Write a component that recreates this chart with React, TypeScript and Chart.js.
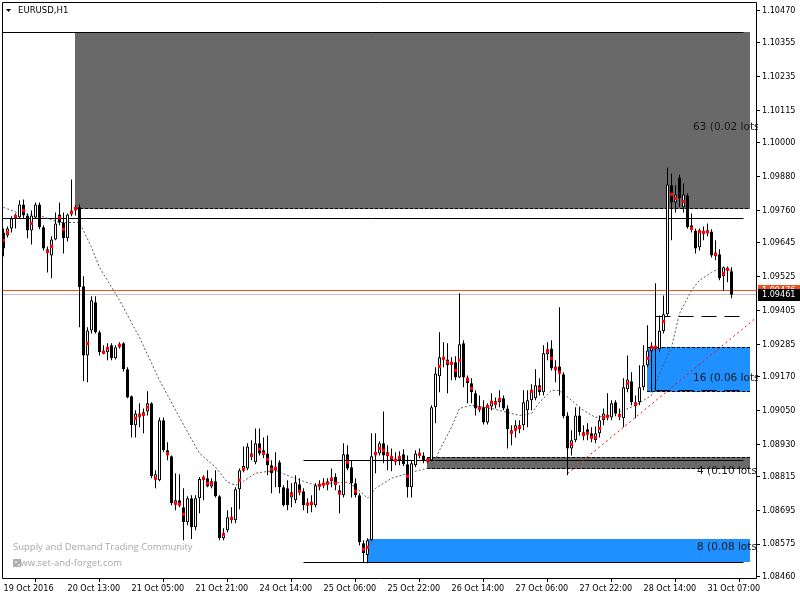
import React, { useEffect, useRef } from "react";
import { Chart, registerables } from "chart.js";

Chart.register(...registerables);

const timeLabels = ["19 Oct 2016", "20 Oct 13:00", "21 Oct 05:00", "21 Oct 21:00", "24 Oct 14:00", "25 Oct 06:00", "25 Oct 22:00", "26 Oct 14:00", "27 Oct 06:00", "27 Oct 22:00", "28 Oct 14:00", "31 Oct 07:00"];
const timeLabelBars = [0, 16, 32, 48, 64, 80, 96, 112, 128, 144, 160, 176];
const priceTicks = [1.1047, 1.10355, 1.10235, 1.10115, 1.1, 1.0988, 1.0976, 1.09645, 1.09525, 1.09405, 1.09285, 1.0917, 1.0905, 1.0893, 1.08815, 1.08695, 1.08575, 1.0846];

const opens = [
  1.09682, 1.09671, 1.09696, 1.09732, 1.09735, 1.09781, 1.09742, 1.09689, 1.09735, 1.09781,
  1.09700, 1.09622, 1.09600, 1.09657, 1.09746, 1.09717, 1.09661, 1.09746, 1.09760, 1.09771,
  1.09491, 1.09245, 1.09334, 1.09434, 1.09327, 1.09256, 1.09256, 1.09281, 1.09235, 1.09274,
  1.09288, 1.09196, 1.09100, 1.08997, 1.09025, 1.09032, 1.09046, 1.09075, 1.08809, 1.08802,
  1.09015, 1.08908, 1.08887, 1.08720, 1.08731, 1.08706, 1.08653, 1.08738, 1.08635, 1.08738,
  1.08802, 1.08809, 1.08780, 1.08798, 1.08745, 1.08596, 1.08624, 1.08660, 1.08660, 1.08770,
  1.08837, 1.08844, 1.08890, 1.08866, 1.08933, 1.08908, 1.08897, 1.08855, 1.08837, 1.08866,
  1.08777, 1.08773, 1.08741, 1.08731, 1.08788, 1.08763, 1.08720, 1.08713, 1.08713, 1.08780,
  1.08788, 1.08788, 1.08798, 1.08813, 1.08766, 1.08749, 1.08894, 1.08848, 1.08791, 1.08749,
  1.08578, 1.08536, 1.08589, 1.08890, 1.08897, 1.08933, 1.08901, 1.08887, 1.08876, 1.08873,
  1.08894, 1.08859, 1.08777, 1.08855, 1.08890, 1.08890, 1.08873, 1.08873, 1.09061, 1.09171,
  1.09235, 1.09231, 1.09213, 1.09221, 1.09167, 1.09288, 1.09167, 1.09146, 1.09111, 1.09057,
  1.09061, 1.09007, 1.09064, 1.09075, 1.09079, 1.09093, 1.09057, 1.08976, 1.08979, 1.08997,
  1.08997, 1.09050, 1.09086, 1.09093, 1.09139, 1.09114, 1.09249, 1.09270, 1.09206, 1.09206,
  1.09178, 1.09032, 1.08915, 1.08944, 1.09032, 1.08958, 1.08983, 1.08969, 1.08944, 1.08969,
  1.09015, 1.09025, 1.09025, 1.09079, 1.09029, 1.09022, 1.09125, 1.09153, 1.09068, 1.09079,
  1.09132, 1.09210, 1.09260, 1.09274, 1.09267, 1.09331, 1.09391, 1.09849, 1.09788, 1.09877,
  1.09771, 1.09813, 1.09707, 1.09689, 1.09629, 1.09675, 1.09678, 1.09685, 1.09611, 1.09604,
  1.09526, 1.09547, 1.09544
];
const highs = [
  1.09696, 1.09703, 1.09739, 1.09749, 1.09796, 1.09799, 1.09749, 1.09760, 1.09788, 1.09788,
  1.09707, 1.09632, 1.09668, 1.09753, 1.09788, 1.09753, 1.09749, 1.09870, 1.09778, 1.09781,
  1.09526, 1.09345, 1.09455, 1.09455, 1.09334, 1.09281, 1.09288, 1.09288, 1.09281, 1.09292,
  1.09292, 1.09203, 1.09103, 1.09050, 1.09075, 1.09057, 1.09118, 1.09079, 1.08837, 1.09025,
  1.09025, 1.08937, 1.08890, 1.08827, 1.08823, 1.08773, 1.08745, 1.08749, 1.08749, 1.08813,
  1.08820, 1.08837, 1.08809, 1.08837, 1.08749, 1.08631, 1.08695, 1.08706, 1.08777, 1.08844,
  1.08922, 1.08933, 1.08944, 1.08986, 1.08986, 1.08954, 1.08961, 1.08873, 1.08901, 1.08873,
  1.08784, 1.08802, 1.08791, 1.08820, 1.08809, 1.08773, 1.08738, 1.08749, 1.08791, 1.08802,
  1.08809, 1.08809, 1.08844, 1.08827, 1.08784, 1.08933, 1.08926, 1.08873, 1.08809, 1.08756,
  1.08589, 1.08596, 1.08969, 1.08969, 1.08940, 1.09046, 1.08926, 1.08915, 1.08901, 1.08905,
  1.08912, 1.08890, 1.08873, 1.08908, 1.08915, 1.08901, 1.08883, 1.09068, 1.09203, 1.09327,
  1.09292, 1.09288, 1.09239, 1.09242, 1.09466, 1.09299, 1.09174, 1.09164, 1.09121, 1.09103,
  1.09086, 1.09075, 1.09111, 1.09096, 1.09121, 1.09103, 1.09068, 1.08997, 1.09015, 1.09015,
  1.09121, 1.09121, 1.09143, 1.09196, 1.09164, 1.09281, 1.09292, 1.09299, 1.09228, 1.09416,
  1.09185, 1.09043, 1.08979, 1.09061, 1.09061, 1.08997, 1.09004, 1.08990, 1.08993, 1.09032,
  1.09057, 1.09111, 1.09086, 1.09086, 1.09057, 1.09164, 1.09245, 1.09185, 1.09103, 1.09210,
  1.09281, 1.09352, 1.09292, 1.09501, 1.09387, 1.09458, 1.09912, 1.09891, 1.09849, 1.09888,
  1.09856, 1.09820, 1.09749, 1.09696, 1.09696, 1.09703, 1.09714, 1.09693, 1.09654, 1.09622,
  1.09561, 1.09561, 1.09558
];
const lows = [
  1.09597, 1.09664, 1.09682, 1.09696, 1.09732, 1.09732, 1.09661, 1.09639, 1.09732, 1.09693,
  1.09618, 1.09540, 1.09519, 1.09654, 1.09707, 1.09607, 1.09650, 1.09739, 1.09742, 1.09345,
  1.09153, 1.09150, 1.09323, 1.09323, 1.09245, 1.09249, 1.09228, 1.09228, 1.09231, 1.09270,
  1.09188, 1.09093, 1.08954, 1.08954, 1.08990, 1.08969, 1.09032, 1.08809, 1.08773, 1.08798,
  1.08901, 1.08873, 1.08713, 1.08695, 1.08706, 1.08589, 1.08642, 1.08593, 1.08624, 1.08685,
  1.08731, 1.08777, 1.08773, 1.08741, 1.08589, 1.08589, 1.08617, 1.08649, 1.08649, 1.08699,
  1.08830, 1.08837, 1.08873, 1.08859, 1.08890, 1.08880, 1.08820, 1.08756, 1.08777, 1.08756,
  1.08709, 1.08695, 1.08706, 1.08720, 1.08749, 1.08695, 1.08685, 1.08688, 1.08706, 1.08766,
  1.08773, 1.08766, 1.08777, 1.08766, 1.08685, 1.08741, 1.08837, 1.08741, 1.08741, 1.08571,
  1.08511, 1.08507, 1.08585, 1.08827, 1.08890, 1.08862, 1.08837, 1.08834, 1.08855, 1.08855,
  1.08852, 1.08741, 1.08741, 1.08848, 1.08880, 1.08862, 1.08862, 1.08869, 1.09004, 1.09114,
  1.09203, 1.09111, 1.09157, 1.09157, 1.09164, 1.09132, 1.09075, 1.09075, 1.09032, 1.09043,
  1.09000, 1.09000, 1.09050, 1.09057, 1.09061, 1.09050, 1.08915, 1.08926, 1.08954, 1.08969,
  1.08979, 1.08990, 1.09050, 1.09086, 1.09103, 1.09103, 1.09228, 1.09192, 1.09150, 1.09103,
  1.09022, 1.08820, 1.08890, 1.08937, 1.08961, 1.08944, 1.08944, 1.08937, 1.08933, 1.08954,
  1.08997, 1.09015, 1.09015, 1.09029, 1.09015, 1.08990, 1.09114, 1.09068, 1.09022, 1.09068,
  1.09121, 1.09203, 1.09114, 1.09121, 1.09256, 1.09323, 1.09384, 1.09654, 1.09753, 1.09771,
  1.09753, 1.09696, 1.09682, 1.09607, 1.09618, 1.09654, 1.09668, 1.09593, 1.09583, 1.09512,
  1.09476, 1.09505, 1.09448
];
const closes = [
  1.09625, 1.09696, 1.09732, 1.09742, 1.09781, 1.09742, 1.09689, 1.09742, 1.09781, 1.09700,
  1.09625, 1.09611, 1.09657, 1.09714, 1.09717, 1.09661, 1.09746, 1.09760, 1.09771, 1.09487,
  1.09245, 1.09334, 1.09441, 1.09327, 1.09256, 1.09263, 1.09274, 1.09235, 1.09274, 1.09285,
  1.09196, 1.09096, 1.08997, 1.09039, 1.09039, 1.09043, 1.09075, 1.08816, 1.08823, 1.09015,
  1.08908, 1.08890, 1.08720, 1.08731, 1.08713, 1.08653, 1.08738, 1.08635, 1.08738, 1.08806,
  1.08813, 1.08780, 1.08798, 1.08745, 1.08596, 1.08614, 1.08670, 1.08670, 1.08770, 1.08837,
  1.08852, 1.08922, 1.08897, 1.08933, 1.08897, 1.08894, 1.08855, 1.08827, 1.08848, 1.08777,
  1.08713, 1.08713, 1.08759, 1.08795, 1.08763, 1.08713, 1.08713, 1.08724, 1.08784, 1.08788,
  1.08791, 1.08798, 1.08806, 1.08784, 1.08756, 1.08894, 1.08844, 1.08791, 1.08749, 1.08582,
  1.08543, 1.08589, 1.08887, 1.08901, 1.08933, 1.08890, 1.08887, 1.08873, 1.08869, 1.08883,
  1.08859, 1.08777, 1.08862, 1.08897, 1.08897, 1.08869, 1.08869, 1.09061, 1.09181, 1.09239,
  1.09239, 1.09210, 1.09217, 1.09167, 1.09285, 1.09167, 1.09146, 1.09114, 1.09057, 1.09064,
  1.09007, 1.09064, 1.09079, 1.09082, 1.09093, 1.09057, 1.08983, 1.08979, 1.08997, 1.08983,
  1.09079, 1.09086, 1.09118, 1.09139, 1.09114, 1.09253, 1.09267, 1.09199, 1.09192, 1.09185,
  1.09029, 1.08915, 1.08944, 1.09032, 1.08972, 1.08972, 1.08965, 1.08951, 1.08969, 1.09015,
  1.09039, 1.09032, 1.09075, 1.09039, 1.09036, 1.09132, 1.09160, 1.09079, 1.09079, 1.09132,
  1.09210, 1.09263, 1.09274, 1.09267, 1.09334, 1.09391, 1.09852, 1.09788, 1.09817, 1.09803,
  1.09817, 1.09700, 1.09693, 1.09625, 1.09685, 1.09682, 1.09685, 1.09600, 1.09597, 1.09519,
  1.09558, 1.09554, 1.09461
];

const markerBars = [0, 1, 3, 5, 7, 11, 12, 14, 15, 17, 18, 21, 25, 26, 29, 33, 34, 35, 36, 38, 41, 43, 44, 45, 50, 51, 52, 55, 57, 59, 60, 62, 64, 65, 66, 67, 68, 72, 74, 76, 77, 79, 80, 81, 82, 83, 84, 86, 88, 90, 91, 93, 94, 95, 96, 97, 98, 99, 101, 104, 106, 109, 110, 111, 112, 113, 114, 116, 117, 119, 121, 122, 123, 124, 127, 128, 129, 132, 134, 136, 137, 138, 139, 142, 145, 146, 147, 148, 149, 150, 151, 154, 156, 158, 161, 162, 163, 165, 167, 168, 170, 172, 174, 175, 176, 178, 180, 181];
const markerPrices = [1.09654, 1.09682, 1.09739, 1.09760, 1.09714, 1.09614, 1.09632, 1.09735, 1.09693, 1.09753, 1.09767, 1.09288, 1.09256, 1.09270, 1.09281, 1.09022, 1.09032, 1.09036, 1.09061, 1.08809, 1.08897, 1.08720, 1.08717, 1.08681, 1.08809, 1.08791, 1.08791, 1.08610, 1.08667, 1.08802, 1.08841, 1.08890, 1.08912, 1.08897, 1.08876, 1.08841, 1.08844, 1.08752, 1.08763, 1.08717, 1.08720, 1.08784, 1.08788, 1.08791, 1.08806, 1.08791, 1.08756, 1.08866, 1.08763, 1.08557, 1.08564, 1.08897, 1.08915, 1.08908, 1.08894, 1.08883, 1.08873, 1.08883, 1.08816, 1.08894, 1.08873, 1.09206, 1.09235, 1.09221, 1.09217, 1.09192, 1.09228, 1.09160, 1.09128, 1.09057, 1.09064, 1.09079, 1.09075, 1.09089, 1.08972, 1.08983, 1.08990, 1.09118, 1.09128, 1.09260, 1.09235, 1.09199, 1.09185, 1.08929, 1.08965, 1.08969, 1.08954, 1.08954, 1.08986, 1.09025, 1.09029, 1.09032, 1.09146, 1.09071, 1.09235, 1.09274, 1.09274, 1.09366, 1.09817, 1.09803, 1.09792, 1.09696, 1.09685, 1.09682, 1.09685, 1.09604, 1.09537, 1.09551];

const maBars = [0, 4, 9, 14, 19, 22, 24, 29, 34, 39, 44, 49, 53, 56, 58, 60, 63, 68, 72, 75, 78, 81, 86, 88, 91, 93, 97, 102, 107, 109, 112, 114, 117, 122, 127, 129, 132, 134, 137, 139, 142, 145, 148, 152, 155, 158, 162, 164, 167, 169, 172, 174, 177, 179, 182];
const maPrices = [1.09771, 1.09749, 1.09742, 1.09717, 1.09717, 1.09629, 1.09558, 1.09441, 1.09309, 1.09157, 1.09025, 1.08897, 1.08848, 1.08795, 1.08784, 1.08798, 1.08827, 1.08837, 1.08813, 1.08798, 1.08784, 1.08791, 1.08795, 1.08777, 1.08738, 1.08773, 1.08809, 1.08830, 1.08848, 1.08908, 1.08990, 1.09057, 1.09068, 1.09057, 1.09039, 1.09032, 1.09039, 1.09079, 1.09121, 1.09121, 1.09086, 1.09050, 1.09025, 1.09032, 1.09050, 1.09068, 1.09103, 1.09181, 1.09274, 1.09394, 1.09476, 1.09512, 1.09540, 1.09554, 1.09547];

const trendBars = [141, 188];
const trendPrices = [1.08826, 1.09377];

const zoneFromBars = [18, 161, 106, 91];
const zoneToBars = [186.6, 186.6, 186.6, 186.6];
const zoneHighs = [1.10392, 1.09274, 1.08883, 1.08592];
const zoneLows = [1.09767, 1.09118, 1.08844, 1.08514];
const zoneTexts = ["63 (0.02 lots)", "16 (0.06 lots)", "4 (0.10 lots)", "8 (0.08 lots)"];
const zoneTextBars = [172.4, 172.4, 173.4, 173.4];
const zoneTextPrices = [1.10055, 1.09164, 1.08834, 1.08564];

const solidLevels = [1.10392, 1.09732, 1.08873, 1.08510];
const solidFromBars = [-0.375, -0.375, 75, 75];
const solidToBars = [185, 185, 185, 185];
const longDashLevels = [1.09384, 1.09121];
const longDashFromBars = [163, 163];
const longDashToBars = [185, 185];

const askPrice = 1.09476;
const bidPrice = 1.09461;

const symbolTitle = "EURUSD,H1";
const watermark1 = "Supply and Demand Trading Community";
const watermark2 = "www.set-and-forget.com";

// styles
const zoneColors = ["#696969", "#1E90FF", "#696969", "#1E90FF"];
const zoneDashTop = [false, true, true, false];
const zoneDashBottom = [true, true, true, false];
const AXIS_FONT = '"DejaVu Sans Condensed", "DejaVu Sans", sans-serif';
const AREA = { left: 2, top: 2, right: 756, bottom: 578 };

function hLine(ctx: CanvasRenderingContext2D, x0: number, x1: number, yPx: number, color: string, dash: number[]) {
  const yy = Math.floor(yPx) + 0.5;
  ctx.save();
  ctx.beginPath();
  ctx.setLineDash(dash);
  ctx.strokeStyle = color;
  ctx.lineWidth = 1;
  ctx.moveTo(x0, yy);
  ctx.lineTo(x1, yy);
  ctx.stroke();
  ctx.restore();
}

const overlayPlugin = {
  id: "mtOverlay",
  beforeDatasetsDraw(chart: any) {
    const { ctx, chartArea: a } = chart;
    const xs = chart.scales.x;
    const ys = chart.scales.y;
    ctx.save();
    ctx.beginPath();
    ctx.rect(a.left, a.top, a.right - a.left, a.bottom - a.top);
    ctx.clip();
    for (let k = 0; k < zoneHighs.length; k++) {
      const xl = Math.floor(xs.getPixelForValue(zoneFromBars[k]));
      const xr = Math.ceil(xs.getPixelForValue(zoneToBars[k]));
      const yt = Math.floor(ys.getPixelForValue(zoneHighs[k]));
      const yb = Math.ceil(ys.getPixelForValue(zoneLows[k]));
      ctx.fillStyle = zoneColors[k];
      ctx.fillRect(xl, yt, xr - xl, yb - yt);
      if (zoneDashTop[k]) hLine(ctx, xl, xr, yt, "#000", [3, 2]);
      if (zoneDashBottom[k]) hLine(ctx, xl, xr, yb - 1, "#000", [3, 2]);
    }
    for (let k = 0; k < solidLevels.length; k++) {
      hLine(ctx, Math.max(a.left, xs.getPixelForValue(solidFromBars[k])), xs.getPixelForValue(solidToBars[k]), ys.getPixelForValue(solidLevels[k]), "#000", []);
    }
    for (let k = 0; k < longDashLevels.length; k++) {
      hLine(ctx, xs.getPixelForValue(longDashFromBars[k]), xs.getPixelForValue(longDashToBars[k]), ys.getPixelForValue(longDashLevels[k]), "#000", [15, 8]);
    }
    hLine(ctx, a.left, a.right, ys.getPixelForValue(askPrice), "#F0501E", []);
    hLine(ctx, a.left, a.right, ys.getPixelForValue(bidPrice), "#C0C0C0", []);
    ctx.restore();
  },
  afterDatasetsDraw(chart: any) {
    const { ctx, chartArea: a } = chart;
    const xs = chart.scales.x;
    const ys = chart.scales.y;
    ctx.save();
    ctx.beginPath();
    ctx.rect(a.left, a.top, a.right - a.left + 2, a.bottom - a.top);
    ctx.clip();
    ctx.font = '10.5px "DejaVu Sans", sans-serif';
    ctx.fillStyle = "#1a1a1a";
    ctx.textAlign = "left";
    ctx.textBaseline = "middle";
    for (let k = 0; k < zoneTexts.length; k++) {
      ctx.fillText(zoneTexts[k], xs.getPixelForValue(zoneTextBars[k]), ys.getPixelForValue(zoneTextPrices[k]));
    }
    ctx.restore();
  },
  afterDraw(chart: any) {
    const { ctx, chartArea: a } = chart;
    const ys = chart.scales.y;
    ctx.save();
    // frame
    ctx.strokeStyle = "#000";
    ctx.lineWidth = 1;
    ctx.setLineDash([]);
    ctx.beginPath();
    ctx.moveTo(a.left + 0.5, a.top + 0.5);
    ctx.lineTo(a.right + 0.5, a.top + 0.5);
    ctx.lineTo(a.right + 0.5, a.bottom + 0.5);
    ctx.lineTo(a.left + 0.5, a.bottom + 0.5);
    ctx.closePath();
    ctx.stroke();
    // title
    ctx.fillStyle = "#000";
    ctx.beginPath();
    ctx.moveTo(6, 9);
    ctx.lineTo(11, 9);
    ctx.lineTo(8.5, 12);
    ctx.closePath();
    ctx.fill();
    ctx.font = "9.5px " + AXIS_FONT;
    ctx.textBaseline = "middle";
    ctx.textAlign = "left";
    ctx.fillText(symbolTitle, 18, 11);
    // watermark
    ctx.fillStyle = "#a8a8a8";
    ctx.font = '9.5px "Open Sans", sans-serif';
    ctx.fillText(watermark1, 13, 547);
    ctx.fillText(watermark2, 13, 563);
    ctx.fillStyle = "#b0b0b0";
    ctx.fillRect(13, 559, 8, 8);
    ctx.fillStyle = "#e0e0e0";
    ctx.fillRect(15, 561, 2, 2);
    ctx.fillRect(18, 564, 2, 2);
    // price labels
    const ay = Math.floor(ys.getPixelForValue(askPrice));
    const by = Math.floor(ys.getPixelForValue(bidPrice));
    ctx.font = "9px " + AXIS_FONT;
    ctx.fillStyle = "#F0501E";
    ctx.fillRect(a.right + 2, ay - 5, 44, 12);
    ctx.fillStyle = "#fff";
    ctx.fillText(askPrice.toFixed(5), a.right + 6, ay + 1);
    ctx.fillStyle = "#000";
    ctx.fillRect(a.right + 2, by - 5, 44, 12);
    ctx.fillStyle = "#fff";
    ctx.fillText(bidPrice.toFixed(5), a.right + 6, by + 1);
    ctx.restore();
  },
};

export default function App() {
  const ref = useRef<HTMLCanvasElement | null>(null);
  useEffect(() => {
    document.body.style.margin = "0";
    const canvas = ref.current;
    if (!canvas) return;
    const n = opens.length;
    const idx = Array.from({ length: n }, (_, i) => i);
    const bodies = idx.map((i) => ({ x: i, y: [opens[i], closes[i]] }));
    const wicks = idx.map((i) => ({ x: i, y: [lows[i], highs[i]] }));
    const bodyFill = idx.map((i) => (closes[i] >= opens[i] ? "#ffffff" : "#000000"));
    const chart = new Chart(canvas, {
      type: "bar",
      data: {
        datasets: [
          {
            type: "scatter",
            data: markerBars.map((b, k) => ({ x: b, y: markerPrices[k] })),
            backgroundColor: "#FF0000",
            borderWidth: 0,
            pointStyle: "rect",
            pointRadius: 2.2,
            order: 0,
          } as any,
          {
            type: "bar",
            data: bodies,
            backgroundColor: bodyFill,
            borderColor: "#000",
            borderWidth: 1,
            borderSkipped: false,
            barThickness: 3,
            grouped: false,
            inflateAmount: 0,
            minBarLength: 1,
            order: 1,
          } as any,
          {
            type: "bar",
            data: wicks,
            backgroundColor: "#000",
            borderWidth: 0,
            borderSkipped: false,
            barThickness: 1,
            grouped: false,
            inflateAmount: 0,
            minBarLength: 1,
            order: 2,
          } as any,
          {
            type: "line",
            data: maBars.map((b, k) => ({ x: b, y: maPrices[k] })),
            borderColor: "#5a5a5a",
            borderWidth: 1,
            borderDash: [2, 2],
            pointRadius: 0,
            tension: 0,
            order: 3,
          } as any,
          {
            type: "line",
            data: trendBars.map((b, k) => ({ x: b, y: trendPrices[k] })),
            borderColor: "#FF0000",
            borderWidth: 1,
            borderDash: [2, 3],
            pointRadius: 0,
            tension: 0,
            order: 3,
          } as any,
        ],
      },
      options: {
        responsive: false,
        animation: false,
        events: [],
        layout: { padding: 0 },
        plugins: { legend: { display: false }, tooltip: { enabled: false } },
        scales: {
          x: {
            type: "linear",
            min: -0.375,
            max: 188.125,
            offset: false,
            border: { display: false },
            grid: { drawOnChartArea: false, drawTicks: true, tickLength: 4, color: "#000" },
            afterBuildTicks: (scale: any) => {
              scale.ticks = timeLabelBars.map((v) => ({ value: v }));
            },
            afterFit: (scale: any) => {
              scale.height = 600 - AREA.bottom;
              scale.paddingLeft = 0;
              scale.paddingRight = 0;
              scale.paddingTop = 0;
              scale.paddingBottom = 0;
            },
            ticks: {
              autoSkip: false,
              maxRotation: 0,
              minRotation: 0,
              align: "start",
              padding: 1,
              color: "#000",
              font: { family: AXIS_FONT, size: 9 },
              callback: (v: any) => {
                const k = timeLabelBars.indexOf(Number(v));
                return k >= 0 ? timeLabels[k] : "";
              },
            },
          },
          y: {
            type: "linear",
            position: "right",
            min: 1.084547,
            max: 1.105002,
            border: { display: false },
            grid: { drawOnChartArea: false, drawTicks: true, tickLength: 4, color: "#000" },
            afterBuildTicks: (scale: any) => {
              scale.ticks = priceTicks.map((v) => ({ value: v }));
            },
            afterFit: (scale: any) => {
              scale.width = 800 - AREA.right;
              scale.paddingLeft = 0;
              scale.paddingRight = 0;
              scale.paddingTop = 0;
              scale.paddingBottom = 0;
            },
            ticks: {
              autoSkip: false,
              padding: 2,
              color: "#000",
              font: { family: AXIS_FONT, size: 9 },
              callback: (v: any) => Number(v).toFixed(5),
            },
          },
        },
      } as any,
      plugins: [
        {
          id: "fixArea",
          afterLayout(c: any) {
            const ca = c.chartArea;
            ca.left = AREA.left;
            ca.top = AREA.top;
            ca.right = AREA.right;
            ca.bottom = AREA.bottom;
            ca.width = AREA.right - AREA.left;
            ca.height = AREA.bottom - AREA.top;
            const xs = c.scales.x;
            const ys = c.scales.y;
            xs.left = AREA.left; xs.right = AREA.right; xs.width = AREA.right - AREA.left;
            xs.top = AREA.bottom; xs.bottom = 600; xs.height = 600 - AREA.bottom;
            ys.top = AREA.top; ys.bottom = AREA.bottom; ys.height = AREA.bottom - AREA.top;
            ys.left = AREA.right; ys.right = 800; ys.width = 800 - AREA.right;
            xs.configure();
            ys.configure();
          },
        },
        overlayPlugin,
      ],
    });
    return () => chart.destroy();
  }, []);
  return (
    <div style={{ width: 800, height: 600, position: "relative" }}>
      <canvas ref={ref} width={800} height={600} style={{ display: "block" }} />
    </div>
  );
}
